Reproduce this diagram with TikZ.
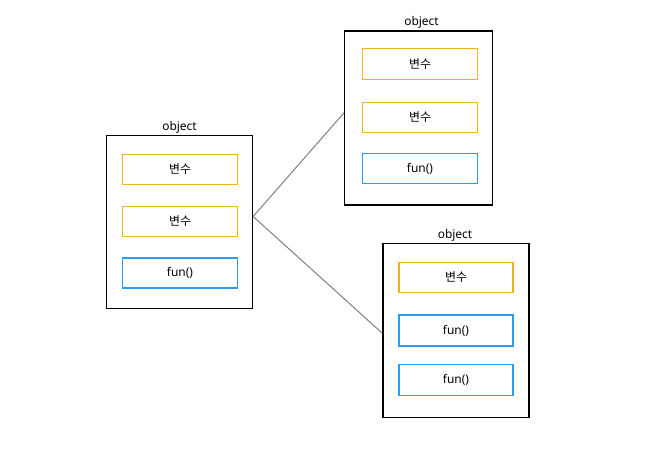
\documentclass[tikz,border=0pt]{standalone}
\usepackage{fontspec}
\setmainfont{Noto Sans}
\newfontfamily\kr{Noto Sans CJK KR}
\definecolor{varc}{HTML}{F2B21E}
\definecolor{func}{HTML}{2A9DF4}
\definecolor{linec}{HTML}{808080}
\begin{document}
\begin{tikzpicture}[x=1bp,y=-1bp,
  outerbox/.style={draw=black,line width=1.3bp,minimum width=146bp,minimum height=173bp,inner sep=0pt},
  varbox/.style={draw=varc,line width=1.3bp,minimum width=115bp,minimum height=30bp,inner sep=0pt,font=\kr\fontsize{12}{14}\selectfont},
  funbox/.style={draw=func,line width=1.3bp,minimum width=115bp,minimum height=30bp,inner sep=0pt,font=\fontsize{12}{14}\selectfont},
  objlabel/.style={font=\fontsize{12}{14}\selectfont,inner sep=0pt},
  conn/.style={draw=linec,line width=1bp}]
\useasboundingbox (0,0) rectangle (658,459);
% left object
\node[outerbox] (L) at (179.5,222) {};
\node[objlabel] (Llab) at (179.5,127.5) {object};
\node[varbox] (L1) at (180,169.5) {변수};
\node[varbox] (L2) at (180,221.5) {변수};
\node[funbox] (L3) at (180,273) {fun()};
% top right object
\node[outerbox,minimum width=147.5bp,minimum height=174bp] (T) at (418.5,118) {};
\node[objlabel] (Tlab) at (421.5,22) {object};
\node[varbox,minimum height=31bp] (T1) at (420,64) {변수};
\node[varbox] (T2) at (420,117.3) {변수};
\node[funbox] (T3) at (420,168.5) {fun()};
% bottom right object
\node[outerbox,minimum height=173.5bp] (B) at (456,330.5) {};
\node[objlabel] (Blab) at (455,235.8) {object};
\node[varbox,minimum width=114bp] (B1) at (456,277.3) {변수};
\node[funbox,minimum width=114bp,minimum height=31bp] (B2) at (456,330.5) {fun()};
\node[funbox,minimum width=114bp,minimum height=31bp] (B3) at (456,380.2) {fun()};
% connectors
\draw[conn] ([yshift=5.5bp]L.east) -- ([yshift=5.3bp]T.west);
\draw[conn] ([yshift=5.5bp]L.east) -- ([yshift=-2.8bp]B.west);
\end{tikzpicture}
\end{document}
